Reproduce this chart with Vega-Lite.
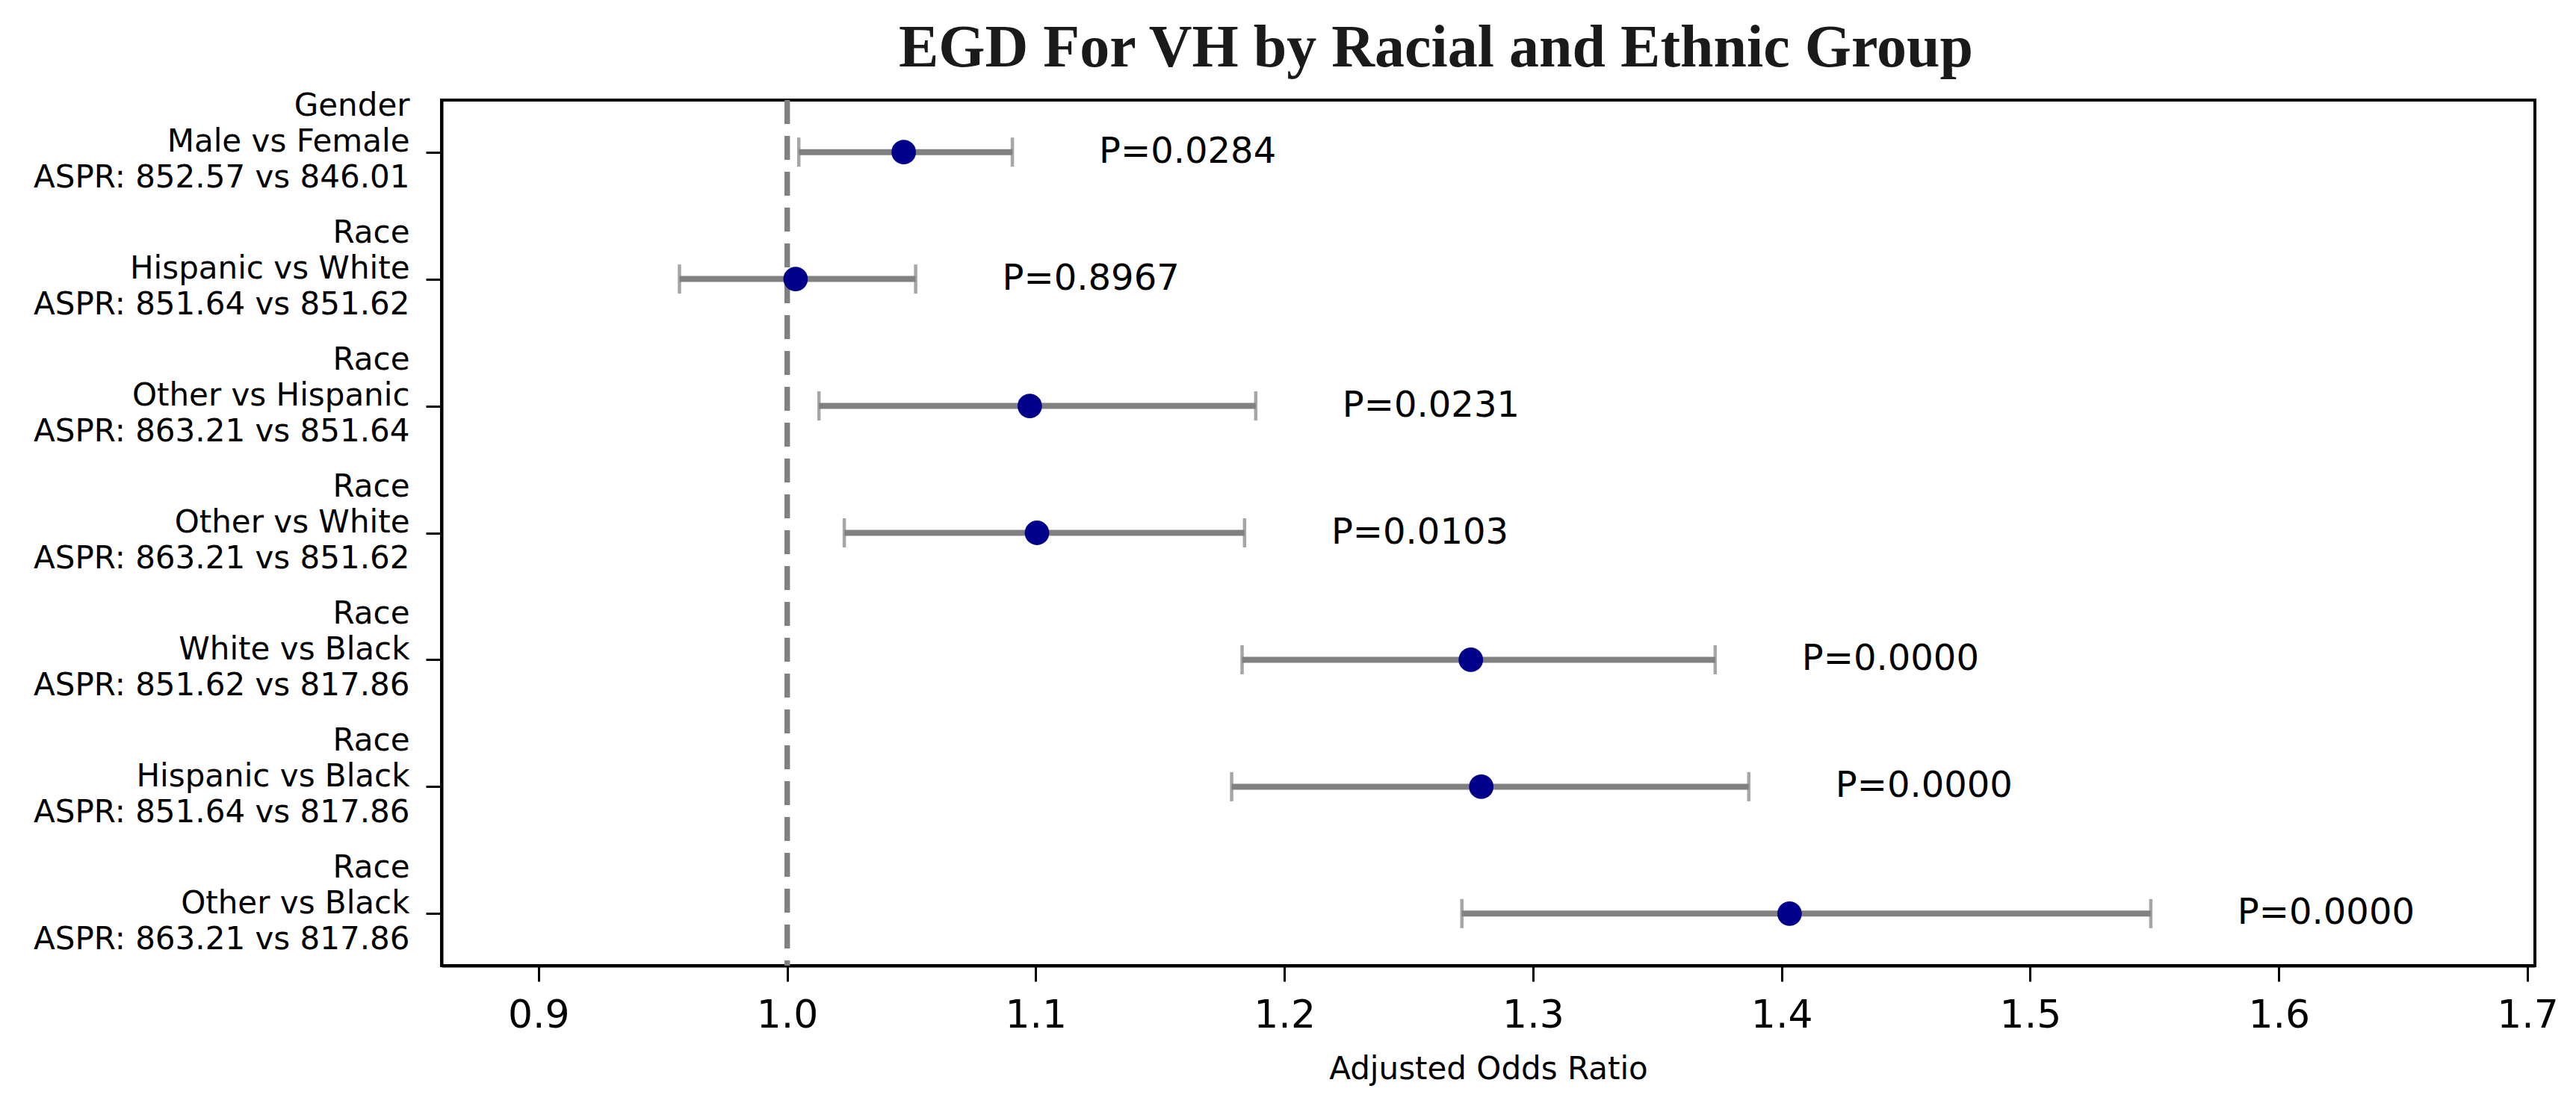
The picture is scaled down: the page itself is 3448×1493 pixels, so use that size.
{
  "$schema": "https://vega.github.io/schema/vega-lite/v6.json",
  "autosize": {"type": "none"},
  "padding": {"left": 591, "top": 134, "right": 55, "bottom": 200},
  "width": 2802,
  "height": 1159,
  "background": "white",
  "config": {
    "view": {"stroke": "black", "strokeWidth": 4},
    "font": "DejaVu Sans"
  },
  "title": {
    "text": "EGD For VH by Racial and Ethnic Group",
    "font": "Liberation Serif",
    "fontWeight": "bold",
    "fontSize": 80,
    "color": "#1a1a1a",
    "anchor": "middle",
    "dx": -70,
    "offset": -48,
    "baseline": "alphabetic"
  },
  "data": {
    "values": [
      {"label": "Gender|Male vs Female|ASPR: 852.57 vs 846.01", "or": 1.0469, "lower": 1.0047, "upper": 1.0906, "p": "P=0.0284"},
      {"label": "Race|Hispanic vs White|ASPR: 851.64 vs 851.62", "or": 1.0034, "lower": 0.9567, "upper": 1.0517, "p": "P=0.8967"},
      {"label": "Race|Other vs Hispanic|ASPR: 863.21 vs 851.64", "or": 1.0976, "lower": 1.0128, "upper": 1.1885, "p": "P=0.0231"},
      {"label": "Race|Other vs White|ASPR: 863.21 vs 851.62", "or": 1.1005, "lower": 1.0230, "upper": 1.1840, "p": "P=0.0103"},
      {"label": "Race|White vs Black|ASPR: 851.62 vs 817.86", "or": 1.2750, "lower": 1.1830, "upper": 1.3733, "p": "P=0.0000"},
      {"label": "Race|Hispanic vs Black|ASPR: 851.64 vs 817.86", "or": 1.2792, "lower": 1.1788, "upper": 1.3868, "p": "P=0.0000"},
      {"label": "Race|Other vs Black|ASPR: 863.21 vs 817.86", "or": 1.4032, "lower": 1.2714, "upper": 1.5485, "p": "P=0.0000"}
    ]
  },
  "encoding": {
    "y": {
      "field": "label",
      "type": "nominal",
      "sort": null,
      "scale": {"type": "point", "padding": 0.41},
      "axis": {
        "title": null,
        "labelExpr": "split(datum.value, '|')",
        "labelFont": "DejaVu Sans",
        "labelFontSize": 42,
        "labelLineHeight": 48,
        "labelColor": "black",
        "labelPadding": 22,
        "labelOffset": -62,
        "labelLimit": 0,
        "tickSize": 21,
        "tickWidth": 3,
        "tickColor": "black",
        "domainColor": "black",
        "domainWidth": 4,
        "grid": false
      }
    }
  },
  "layer": [
    {
      "mark": {"type": "rule", "color": "#808080", "strokeWidth": 7, "strokeDash": [32, 16]},
      "encoding": {"x": {"datum": 1.0, "type": "quantitative"}, "y": null}
    },
    {
      "mark": {"type": "rule", "color": "#808080", "strokeWidth": 8},
      "encoding": {
        "x": {
          "field": "lower",
          "type": "quantitative",
          "scale": {"domain": [0.861, 1.703], "nice": false, "zero": false},
          "axis": {
            "title": "Adjusted Odds Ratio",
            "titleFont": "DejaVu Sans",
            "titleFontSize": 42,
            "titleFontWeight": "normal",
            "titleColor": "black",
            "titlePadding": 26,
            "values": [0.9, 1.0, 1.1, 1.2, 1.3, 1.4, 1.5, 1.6, 1.7],
            "format": ".1f",
            "labelFont": "DejaVu Sans",
            "labelFontSize": 52,
            "labelColor": "black",
            "labelPadding": 20,
            "labelFlush": false,
            "tickSize": 21,
            "tickWidth": 3,
            "tickColor": "black",
            "domainColor": "black",
            "domainWidth": 4,
            "grid": false
          }
        },
        "x2": {"field": "upper"}
      }
    },
    {
      "mark": {"type": "tick", "color": "#808080", "size": 39, "thickness": 4.5, "orient": "vertical"},
      "encoding": {"x": {"field": "lower", "type": "quantitative"}}
    },
    {
      "mark": {"type": "tick", "color": "#808080", "size": 39, "thickness": 4.5, "orient": "vertical"},
      "encoding": {"x": {"field": "upper", "type": "quantitative"}}
    },
    {
      "mark": {"type": "circle", "color": "#00008B", "size": 1075, "opacity": 1},
      "encoding": {"x": {"field": "or", "type": "quantitative"}}
    },
    {
      "mark": {"type": "text", "align": "left", "baseline": "middle", "dx": 116, "fontSize": 48, "font": "DejaVu Sans", "color": "black"},
      "encoding": {"x": {"field": "upper", "type": "quantitative"}, "text": {"field": "p"}}
    }
  ]
}
